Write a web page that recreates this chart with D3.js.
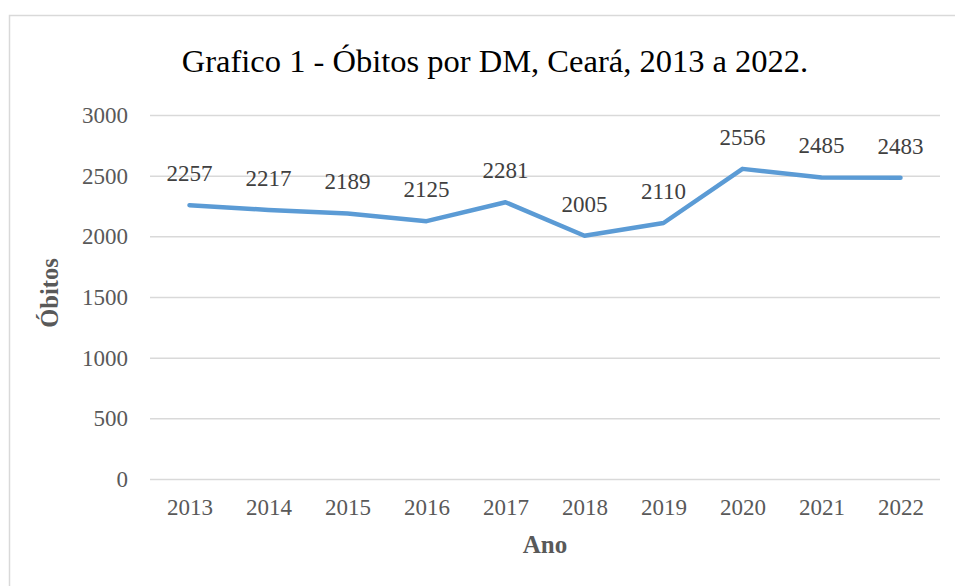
<!DOCTYPE html>
<html>
<head>
<meta charset="utf-8">
<script src="https://cdn.jsdelivr.net/npm/d3@7"></script>
<style>
  body { margin: 0; background: #fff; }
  svg { display: block; font-family: "Liberation Serif", "Times New Roman", serif; }
</style>
</head>
<body>
<script>
// data
var YEARS = ["2013", "2014", "2015", "2016", "2017", "2018", "2019", "2020", "2021", "2022"];
var OBITOS = [2257, 2217, 2189, 2125, 2281, 2005, 2110, 2556, 2485, 2483];
var Y_TICKS = [0, 500, 1000, 1500, 2000, 2500, 3000];
var TITLE = "Grafico 1 - Óbitos por DM, Ceará, 2013 a 2022.";

var SERIF = "Liberation Serif, Times New Roman, serif";

// plot area
var PLOT = {left: 150, right: 940, top: 115, bottom: 479};

var svg = d3.select("body").append("svg")
    .attr("width", 955).attr("height", 586)
    .attr("font-family", SERIF);

// chart border (runs off the right and bottom edges)
svg.append("rect")
    .attr("x", 9.5).attr("y", 15.5)
    .attr("width", 1000).attr("height", 1000)
    .attr("fill", "#fff").attr("stroke", "#d9d9d9").attr("stroke-width", 1.5);

var xScale = d3.scalePoint().domain(YEARS).range([PLOT.left, PLOT.right]).padding(0.5);
var yScale = d3.scaleLinear().domain([0, 3000]).range([PLOT.bottom, PLOT.top]);

// y axis with gridlines
var yAxis = d3.axisLeft(yScale).tickValues(Y_TICKS).tickFormat(d3.format("d"))
    .tickSize(-(PLOT.right - PLOT.left)).tickPadding(22);
var gy = svg.append("g").attr("class", "y axis")
    .attr("transform", "translate(" + PLOT.left + ",0)").call(yAxis)
    .attr("font-family", SERIF).attr("font-size", 23);
gy.select(".domain").remove();
gy.selectAll("line").attr("stroke", "#d9d9d9").attr("stroke-width", 1.5);
gy.selectAll("text").attr("fill", "#595959");

// x axis
var xAxis = d3.axisBottom(xScale).tickSize(0).tickPadding(20);
var gx = svg.append("g").attr("class", "x axis")
    .attr("transform", "translate(0," + PLOT.bottom + ")").call(xAxis)
    .attr("font-family", SERIF).attr("font-size", 23);
gx.select(".domain").remove();
gx.selectAll("text").attr("fill", "#595959");

// line
var line = d3.line()
    .x(function (d, i) { return xScale(YEARS[i]); })
    .y(function (d) { return yScale(d); });

svg.append("path").datum(OBITOS)
    .attr("d", line)
    .attr("fill", "none")
    .attr("stroke", "#5b9bd5")
    .attr("stroke-width", 4.5)
    .attr("stroke-linejoin", "round")
    .attr("stroke-linecap", "round");

// data labels
svg.selectAll(".label").data(OBITOS).enter().append("text")
    .attr("class", "label")
    .attr("x", function (d, i) { return xScale(YEARS[i]); })
    .attr("y", function (d) { return yScale(d) - 24; })
    .attr("text-anchor", "middle")
    .attr("font-size", 23)
    .attr("fill", "#404040")
    .text(function (d) { return d; });

// title
svg.append("text")
    .attr("x", 495).attr("y", 72)
    .attr("text-anchor", "middle")
    .attr("font-size", 32.5)
    .attr("fill", "#000")
    .text(TITLE);

// axis titles
svg.append("text")
    .attr("x", (PLOT.left + PLOT.right) / 2).attr("y", 553)
    .attr("text-anchor", "middle")
    .attr("font-size", 25).attr("font-weight", "bold")
    .attr("fill", "#595959")
    .text("Ano");

svg.append("text")
    .attr("transform", "translate(57.5,293) rotate(-90)")
    .attr("text-anchor", "middle")
    .attr("font-size", 24.5).attr("font-weight", "bold")
    .attr("fill", "#595959")
    .text("Óbitos");
</script>
</body>
</html>
